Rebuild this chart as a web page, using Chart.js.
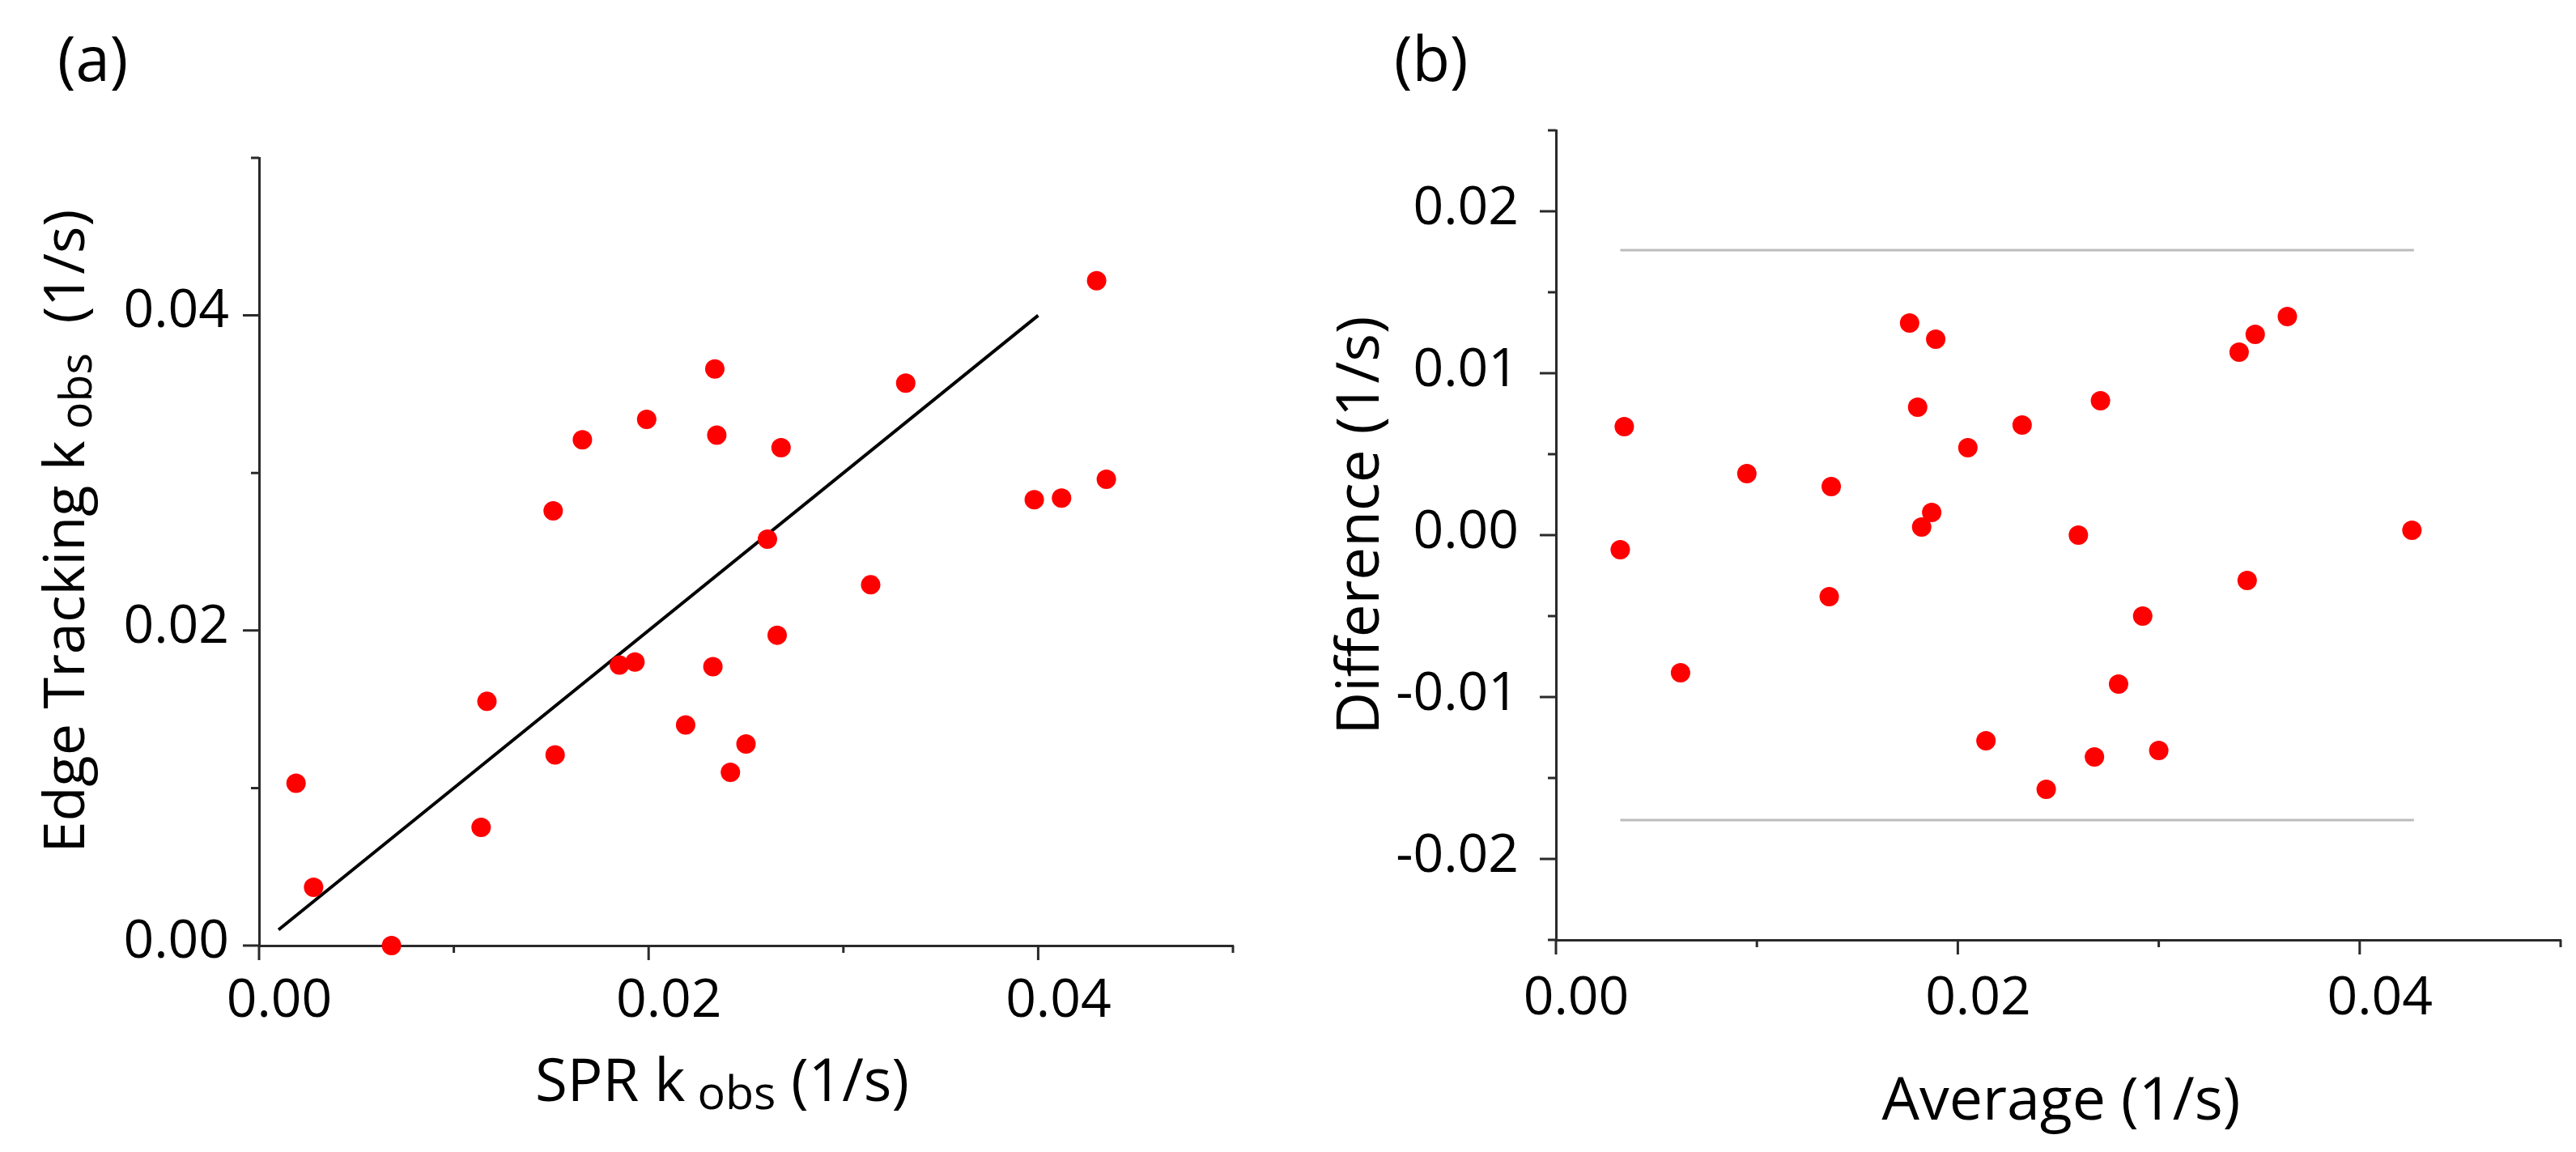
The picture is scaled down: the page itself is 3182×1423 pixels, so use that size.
<!DOCTYPE html>
<html>
<head>
<meta charset="utf-8">
<title>SPR vs Edge Tracking kobs</title>
<script src="https://cdn.jsdelivr.net/npm/chart.js@4.4.1/dist/chart.umd.min.js"></script>
<style>
  body { margin: 0; background: #fff; }
  #page { position: relative; width: 3182px; height: 1423px; }
  .panel { position: absolute; top: 0; width: 1591px; height: 1423px; }
  #panelA { left: 0; }
  #panelB { left: 1591px; }
</style>
</head>
<body>
<div id="page">
  <div class="panel" id="panelA"><canvas id="chartA" width="1591" height="1423"></canvas></div>
  <div class="panel" id="panelB"><canvas id="chartB" width="1591" height="1423"></canvas></div>
</div>
<script>
// ---------- DATA ----------

// (a) SPR kobs against edge tracking kobs (1/s)
var sprKobs  = [0.0019, 0.0028, 0.0068, 0.0114, 0.0117, 0.0152, 0.0151, 0.0166, 0.0185, 0.0193, 0.0199, 0.0219, 0.0233,
                0.0234, 0.0235, 0.0242, 0.0250, 0.0261, 0.0266, 0.0268, 0.0314, 0.0332, 0.0398, 0.0412, 0.0430, 0.0435];
var edgeKobs = [0.0103, 0.0037, 0.0000, 0.0075, 0.0155, 0.0121, 0.0276, 0.0321, 0.0178, 0.0180, 0.0334, 0.0140, 0.0177,
                0.0366, 0.0324, 0.0110, 0.0128, 0.0258, 0.0197, 0.0316, 0.0229, 0.0357, 0.0283, 0.0284, 0.0422, 0.0296];
// line of identity
var fitX = [0.001, 0.040];
var fitY = [0.001, 0.040];

// (b) difference against average (1/s)
var avgK  = [0.0032, 0.0034, 0.0062, 0.0095, 0.0137, 0.0136, 0.0176, 0.0189, 0.0180, 0.0182, 0.0187, 0.0205, 0.0214,
             0.0232, 0.0244, 0.0260, 0.0268, 0.0271, 0.0280, 0.0292, 0.0300, 0.0340, 0.0344, 0.0348, 0.0364, 0.0426];
var diffK = [-0.0009, 0.0067, -0.0085, 0.0038, 0.0030, -0.0038, 0.0131, 0.0121, 0.0079, 0.0005, 0.0014, 0.0054, -0.0127,
             0.0068, -0.0157, 0.0000, -0.0137, 0.0083, -0.0092, -0.0050, -0.0133, 0.0113, -0.0028, 0.0124, 0.0135, 0.0003];
// limits of agreement
var loaX     = [0.0032, 0.0427];
var loaUpper = [0.0176, 0.0176];
var loaLower = [-0.0176, -0.0176];

// ticks
var kTicks        = [0, 0.01, 0.02, 0.03, 0.04, 0.05];
var kTickLabels   = ['0.00', '', '0.02', '', '0.04', ''];
var diffTicks      = [-0.025, -0.02, -0.015, -0.01, -0.005, 0, 0.005, 0.01, 0.015, 0.02, 0.025];
var diffTickLabels = ['', '-0.02', '', '-0.01', '', '0.00', '', '0.01', '', '0.02', ''];


// ---------- HELPERS ----------

var FONT = "'Open Sans', sans-serif";
var AXIS_COLOR = '#2a2a2a';

function pairs(xs, ys) {
  return xs.map(function(x, i) { return { x: x, y: ys[i] }; });
}

// linear axis with fixed tick list, labels from array, fixed box size
function makeAxis(values, labels, boxSize, tickLen, pad, offset) {
  return {
    type: 'linear',
    min: values[0],
    max: values[values.length - 1],
    afterBuildTicks: function(scale) {
      scale.ticks = values.map(function(v) { return { value: v }; });
    },
    afterFit: function(scale) {
      if (scale.isHorizontal()) scale.height = boxSize;
      else scale.width = boxSize;
    },
    border: { display: true, color: AXIS_COLOR, width: 3 },
    grid: { display: true, drawOnChartArea: false, drawTicks: true, tickLength: tickLen, tickColor: 'rgba(0,0,0,0)' },
    ticks: {
      autoSkip: false,
      maxRotation: 0,
      padding: pad,
      labelOffset: offset,
      color: '#000',
      font: { family: FONT, size: 66 },
      callback: function(v, i) { return labels[i]; }
    },
    title: { display: false }
  };
}

// tick marks: long for labelled ticks, short for the others
var tickMarks = {
  id: 'tickMarks',
  afterDatasetsDraw: function(chart) {
    var ctx = chart.ctx;
    var xs = chart.scales.x, ys = chart.scales.y;
    ctx.save();
    ctx.strokeStyle = AXIS_COLOR;
    ctx.lineWidth = 3;
    ctx.beginPath();
    xs.ticks.forEach(function(t) {
      var px = xs.getPixelForValue(t.value);
      var len = t.label ? 18 : 9;
      ctx.moveTo(px, xs.top);
      ctx.lineTo(px, xs.top + len);
    });
    ys.ticks.forEach(function(t) {
      var py = ys.getPixelForValue(t.value);
      var len = t.label ? 20 : 10;
      ctx.moveTo(ys.right - len, py);
      ctx.lineTo(ys.right, py);
    });
    ctx.stroke();
    ctx.restore();
  }
};

// draws text parts (some as subscripts) centred on `mid`, shrunk to fit `span`
function drawParts(ctx, parts, mid, base, rotate, span) {
  var size = 76, subSize = 60;
  var total = 0;
  parts.forEach(function(p) {
    ctx.font = (p.sub ? subSize : size) + 'px ' + FONT;
    total += ctx.measureText(p.t).width;
  });
  var k = Math.max(0.85, Math.min(1.05, span / total));
  size *= k; subSize *= k;
  ctx.save();
  if (rotate) {
    ctx.translate(base, mid);
    ctx.rotate(-Math.PI / 2);
  } else {
    ctx.translate(mid, base);
  }
  ctx.textAlign = 'left';
  ctx.textBaseline = 'alphabetic';
  ctx.fillStyle = '#000';
  var x = -total * k / 2;
  parts.forEach(function(p) {
    ctx.font = (p.sub ? subSize : size) + 'px ' + FONT;
    ctx.fillText(p.t, x, p.sub ? 10 * k : 0);
    x += ctx.measureText(p.t).width;
  });
  ctx.restore();
}

// panel tag and axis titles
var panelText = {
  id: 'panelText',
  afterDraw: function(chart, args, o) {
    var ctx = chart.ctx;
    ctx.save();
    ctx.fillStyle = '#000';
    ctx.font = '76px ' + FONT;
    ctx.textAlign = 'left';
    ctx.textBaseline = 'alphabetic';
    ctx.fillText(o.tag, o.tagX, o.tagY);
    ctx.restore();
    drawParts(ctx, o.xTitle, o.xTitleMid, o.xTitleBase, false, o.xTitleSpan);
    drawParts(ctx, o.yTitle, o.yTitleMid, o.yTitleBase, true, o.yTitleSpan);
  }
};


// ---------- CHART (a) ----------

var chartA = new Chart(document.getElementById('chartA'), {
  type: 'scatter',
  data: {
    datasets: [
      {
        label: 'kobs',
        data: pairs(sprKobs, edgeKobs),
        backgroundColor: '#ff0000',
        borderWidth: 0,
        pointRadius: 12,
        clip: false
      },
      {
        label: 'y = x',
        data: pairs(fitX, fitY),
        showLine: true,
        borderColor: '#000',
        borderWidth: 4,
        pointRadius: 0
      }
    ]
  },
  plugins: [tickMarks, panelText],
  options: {
    responsive: false,
    animation: false,
    events: [],
    layout: { padding: { left: 0, top: 195, right: 68, bottom: 0 } },
    scales: {
      x: makeAxis(kTicks, kTickLabels, 255, 18, 12, 25),
      y: makeAxis(kTicks, kTickLabels, 320, 20, 17, -4)
    },
    plugins: {
      legend: { display: false },
      tooltip: { enabled: false },
      panelText: {
        tag: '(a)', tagX: 71, tagY: 100,
        xTitle: [{ t: 'SPR k' }, { t: ' obs', sub: true }, { t: ' (1/s)' }],
        xTitleMid: 892, xTitleBase: 1360, xTitleSpan: 462,
        yTitle: [{ t: 'Edge Tracking k' }, { t: ' obs', sub: true }, { t: '  (1/s)' }],
        yTitleMid: 656, yTitleBase: 104, yTitleSpan: 795
      }
    }
  }
});


// ---------- CHART (b) ----------

var chartB = new Chart(document.getElementById('chartB'), {
  type: 'scatter',
  data: {
    datasets: [
      {
        label: 'difference',
        data: pairs(avgK, diffK),
        backgroundColor: '#ff0000',
        borderWidth: 0,
        pointRadius: 12,
        clip: false
      },
      {
        label: 'upper limit',
        data: pairs(loaX, loaUpper),
        showLine: true,
        borderColor: '#bcbcbc',
        borderWidth: 3,
        pointRadius: 0
      },
      {
        label: 'lower limit',
        data: pairs(loaX, loaLower),
        showLine: true,
        borderColor: '#bcbcbc',
        borderWidth: 3,
        pointRadius: 0
      }
    ]
  },
  plugins: [tickMarks, panelText],
  options: {
    responsive: false,
    animation: false,
    events: [],
    layout: { padding: { left: 0, top: 161, right: 19, bottom: 0 } },
    scales: {
      x: makeAxis(kTicks, kTickLabels, 262, 18, 16, 25),
      y: makeAxis(diffTicks, diffTickLabels, 331, 20, 26, -3)
    },
    plugins: {
      legend: { display: false },
      tooltip: { enabled: false },
      panelText: {
        tag: '(b)', tagX: 131, tagY: 100,
        xTitle: [{ t: 'Average (1/s)' }],
        xTitleMid: 955, xTitleBase: 1383, xTitleSpan: 443,
        yTitle: [{ t: 'Difference (1/s)' }],
        yTitleMid: 649, yTitleBase: 112, yTitleSpan: 517
      }
    }
  }
});
</script>
</body>
</html>
